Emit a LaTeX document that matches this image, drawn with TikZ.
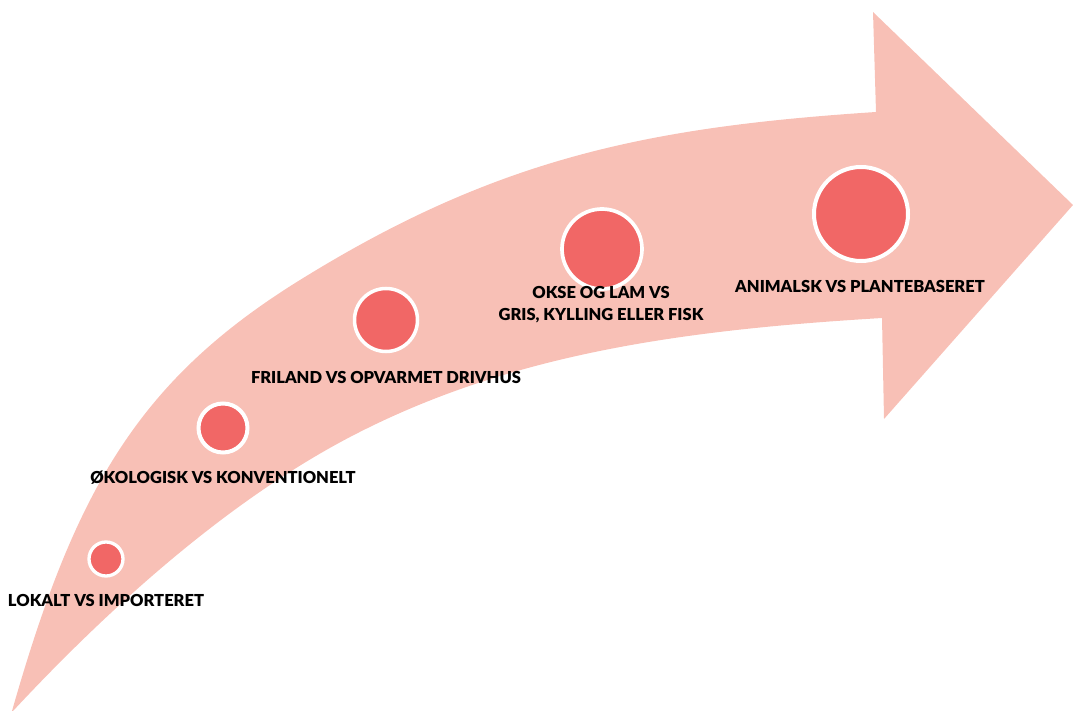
\documentclass[tikz,border=0pt]{standalone}
\usepackage{fontspec}
\setmainfont{Lato}[BoldFont={Lato Black}]
\usepackage{tikz}

\definecolor{arrowpink}{HTML}{F8C0B6}
\definecolor{dotred}{HTML}{F16766}

\tikzset{
	bubble/.style={circle, draw=white, fill=dotred, inner sep=0pt},
	steplabel/.style={font=\bfseries\fontsize{16.5}{21.7}\selectfont, anchor=base, align=center, inner sep=0pt}
}

\begin{document}
\begin{tikzpicture}[x=1pt,y=-1pt]
	\useasboundingbox (0,0) rectangle (1073,711);
	% curved arrow
	\fill[arrowpink] (12,711) .. controls (75,490) and (138.5,380) .. (300,280)
		.. controls (495.5,158.8) and (646,127) .. (876,112)
		-- (873,12) -- (1073,205) -- (884,419) -- (882,318)
		.. controls (682,330) and (509.5,353.7) .. (350,437)
		.. controls (226,502) and (108,609) .. (13,711) -- cycle;
	% steps
	\node[bubble, line width=3.3pt, minimum size=34pt] (c1) at (106,559) {};
	\node[bubble, line width=4pt, minimum size=49pt] (c2) at (223,428) {};
	\node[bubble, line width=3.5pt, minimum size=63pt] (c3) at (386,320) {};
	\node[bubble, line width=3.7pt, minimum size=80pt] (c4) at (602,249) {};
	\node[bubble, line width=4pt, minimum size=94pt] (c5) at (861,214) {};
	\node[steplabel] (t1) at (106,606.7) {LOKALT VS IMPORTERET};
	\node[steplabel] (t2) at (223,483.3) {ØKOLOGISK VS KONVENTIONELT};
	\node[steplabel] (t3) at (386,383.3) {FRILAND VS OPVARMET DRIVHUS};
	\node[steplabel] (t4) at (601,320) {OKSE OG LAM VS\\GRIS, KYLLING ELLER FISK};
	\node[steplabel] (t5) at (860,292.7) {ANIMALSK VS PLANTEBASERET};
\end{tikzpicture}
\end{document}
